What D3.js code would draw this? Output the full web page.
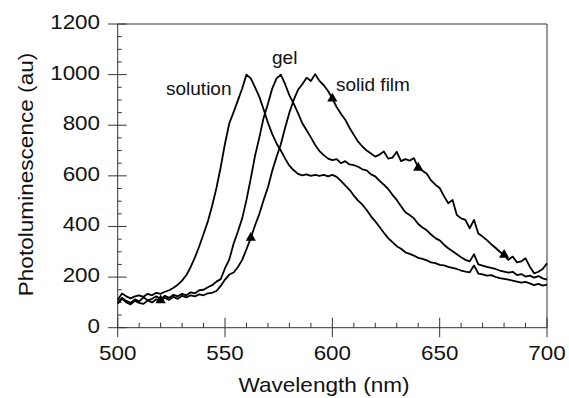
<!DOCTYPE html>
<html>
<head>
<meta charset="utf-8">
<script src="https://cdn.jsdelivr.net/npm/d3@7"></script>
<style>
    body { margin: 0; background: #fff; }
    svg { display: block; font-family: "Liberation Sans", Arial, sans-serif; }
</style>
</head>
<body>
<svg id="chart" width="569" height="398"></svg>
<script>
// wavelength grid (nm)
let wavelengths = [
    500, 502, 504, 506, 508, 510, 512, 514, 516, 518, 520, 522, 524, 526, 528, 530, 532, 534, 536, 538,
    540, 542, 544, 546, 548, 550, 552, 554, 556, 558, 560, 562, 564, 566, 568, 570, 572, 574, 576, 578,
    580, 582, 584, 586, 588, 590, 592, 594, 596, 598, 600, 602, 604, 606, 608, 610, 612, 614, 616, 618,
    620, 622, 624, 626, 628, 630, 632, 634, 636, 638, 640, 642, 644, 646, 648, 650, 652, 654, 656, 658,
    660, 662, 664, 666, 668, 670, 672, 674, 676, 678, 680, 682, 684, 686, 688, 690, 692, 694, 696, 698, 700
];

let solution = [
    110, 135, 124, 116, 124, 128, 122, 134, 128, 138, 134, 142, 148, 158, 170, 186, 208, 240, 278, 322,
    370, 420, 482, 552, 635, 728, 808, 852, 898, 945, 1000, 985, 950, 912, 862, 810, 765, 728, 700, 668,
    640, 622, 608, 602, 606, 600, 604, 600, 604, 598, 604, 596, 580, 562, 545, 522, 502, 486, 465, 440,
    420, 398, 375, 354, 338, 322, 312, 298, 292, 285, 276, 272, 266, 258, 255, 248, 246, 240, 236, 232,
    226, 222, 219, 246, 214, 211, 206, 208, 201, 196, 193, 190, 186, 182, 178, 181, 175, 168, 173, 166, 170
];

let gel = [
    100, 118, 106, 98, 112, 104, 120, 108, 114, 124, 112, 126, 118, 130, 124, 134, 128, 140, 136, 148,
    150, 160, 168, 182, 192, 235, 270, 332, 380, 432, 505, 590, 680, 752, 830, 885, 945, 985, 1000, 962,
    918, 885, 848, 808, 780, 752, 722, 698, 682, 668, 662, 666, 650, 658, 645, 642, 636, 626, 622, 606,
    598, 580, 565, 548, 525, 505, 480, 456, 445, 432, 410, 396, 385, 368, 354, 345, 328, 314, 302, 290,
    278, 268, 262, 290, 250, 245, 240, 236, 232, 226, 222, 218, 221, 208, 212, 202, 206, 198, 204, 195, 190
];

let solidFilm = [
    95, 114, 100, 92, 106, 98, 94, 108, 100, 112, 108, 118, 110, 122, 114, 126, 120, 128, 124, 132,
    128, 136, 138, 145, 165, 190, 210, 218, 240, 268, 310, 355, 405, 450, 505, 555, 620, 675, 725, 790,
    850, 900, 940, 962, 988, 975, 1002, 975, 958, 935, 905, 872, 845, 822, 790, 762, 735, 716, 700, 688,
    676, 684, 696, 668, 672, 695, 658, 666, 660, 670, 632, 620, 608, 582, 565, 552, 520, 492, 505, 445,
    432, 426, 393, 426, 372, 360, 346, 330, 316, 300, 288, 268, 281, 258, 262, 274, 241, 215, 221, 232, 254
];

// filled triangles sitting on the solid film trace
let markerWavelengths = [520, 562, 600, 640, 680];

let xTicks = [500, 550, 600, 650, 700];
let yTicks = [0, 200, 400, 600, 800, 1000, 1200];

let svg = d3.select("#chart");

let x = d3.scaleLinear().domain([500, 700]).range([117.7, 547]);
let y = d3.scaleLinear().domain([0, 1200]).range([327.7, 24]);

let ink = "#111";
let axisInk = "#333";

// frame: top and right borders
svg.append("path")
    .attr("d", "M" + x(500) + "," + y(1200) + "H" + x(700) + "V" + y(0))
    .attr("fill", "none")
    .attr("stroke", axisInk)
    .attr("stroke-width", 1);

// left axis
let yAxis = svg.append("g");
yAxis.append("line")
    .attr("x1", x(500)).attr("x2", x(500))
    .attr("y1", y(0)).attr("y2", y(1200))
    .attr("stroke", axisInk);
yAxis.selectAll(".minor")
    .data(d3.range(0, 1201, 50).filter(v => v % 200 !== 0))
    .enter().append("line")
    .attr("x1", x(500)).attr("x2", x(500) + 4)
    .attr("y1", d => y(d)).attr("y2", d => y(d))
    .attr("stroke", axisInk);
yAxis.selectAll(".major")
    .data(yTicks)
    .enter().append("line")
    .attr("x1", x(500) - 9.5).attr("x2", x(500) + 9)
    .attr("y1", d => y(d)).attr("y2", d => y(d))
    .attr("stroke", axisInk);
yAxis.selectAll("text")
    .data(yTicks)
    .enter().append("text")
    .attr("transform", d => "translate(100," + (y(d) + 5) + ") scale(1.12,1)")
    .attr("text-anchor", "end")
    .attr("font-size", 20)
    .attr("fill", ink)
    .text(d => d);

// bottom axis
let xAxis = svg.append("g");
xAxis.append("line")
    .attr("x1", x(500)).attr("x2", x(700))
    .attr("y1", y(0)).attr("y2", y(0))
    .attr("stroke", axisInk);
xAxis.selectAll(".minor")
    .data(d3.range(500, 701, 10).filter(v => v % 50 !== 0))
    .enter().append("line")
    .attr("x1", d => x(d)).attr("x2", d => x(d))
    .attr("y1", y(0)).attr("y2", y(0) - 5)
    .attr("stroke", axisInk);
xAxis.selectAll(".major")
    .data(xTicks)
    .enter().append("line")
    .attr("x1", d => x(d)).attr("x2", d => x(d))
    .attr("y1", y(0) - 10).attr("y2", y(0) + 9.5)
    .attr("stroke", axisInk);
xAxis.selectAll("text")
    .data(xTicks)
    .enter().append("text")
    .attr("transform", d => "translate(" + x(d) + ",359.5) scale(1.12,1)")
    .attr("text-anchor", "middle")
    .attr("font-size", 20)
    .attr("fill", ink)
    .text(d => d);

// axis titles
svg.append("text")
    .attr("transform", "translate(324,391.5) scale(1.13,1)")
    .attr("text-anchor", "middle")
    .attr("font-size", 20)
    .attr("fill", ink)
    .text("Wavelength (nm)");

svg.append("text")
    .attr("transform", "translate(33,174.5) rotate(-90) scale(1.13,1)")
    .attr("text-anchor", "middle")
    .attr("font-size", 20)
    .attr("fill", ink)
    .text("Photoluminescence (au)");

// spectra
let line = d3.line()
    .x((d, i) => x(wavelengths[i]))
    .y(d => y(d));

for (let series of [solution, gel, solidFilm]) {
    svg.append("path")
        .datum(series)
        .attr("fill", "none")
        .attr("stroke", "#000")
        .attr("stroke-width", 1.8)
        .attr("stroke-linejoin", "round")
        .attr("d", line);
}

let tri = d3.symbol().type(d3.symbolTriangle).size(45);
svg.selectAll(".marker")
    .data(markerWavelengths)
    .enter().append("path")
    .attr("transform", d => "translate(" + x(d) + "," + y(solidFilm[wavelengths.indexOf(d)]) + ")")
    .attr("d", tri)
    .attr("fill", "#000");

// curve labels
let labels = [
    { text: "solution", x: 166, y: 94.5 },
    { text: "gel", x: 272, y: 63.5 },
    { text: "solid film", x: 336, y: 90.5 }
];
svg.selectAll(".label")
    .data(labels)
    .enter().append("text")
    .attr("x", d => d.x)
    .attr("y", d => d.y)
    .attr("font-size", 19)
    .attr("fill", ink)
    .text(d => d.text);
</script>
</body>
</html>
